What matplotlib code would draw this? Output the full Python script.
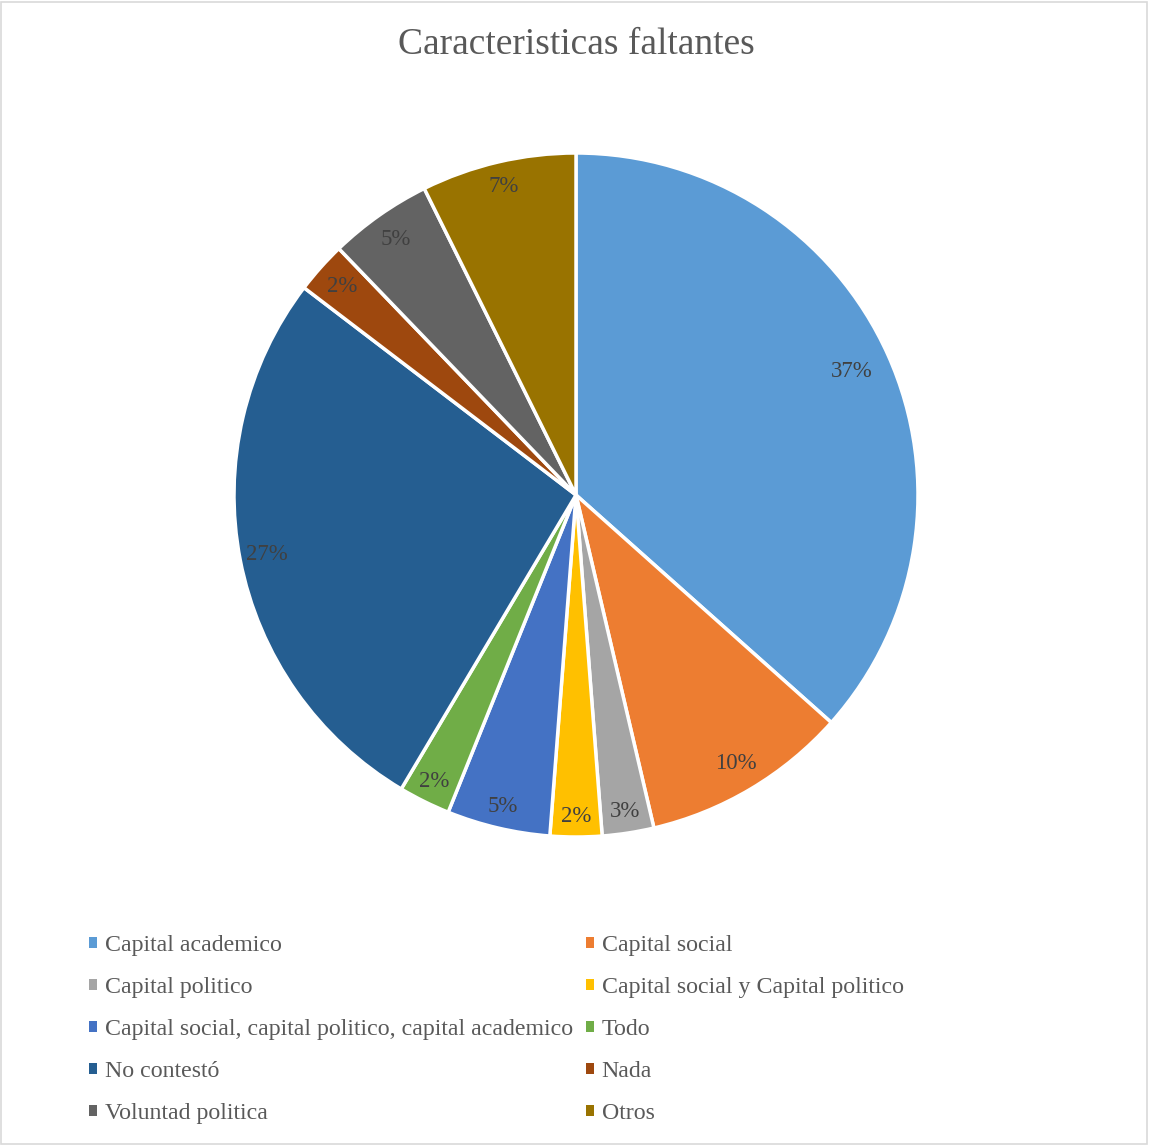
import matplotlib
matplotlib.use("Agg")
import matplotlib.pyplot as plt
from matplotlib.patches import Patch, Rectangle
import numpy as np

categories = ["Capital academico", "Capital social", "Capital politico",
              "Capital social y Capital politico",
              "Capital social, capital politico, capital academico",
              "Todo", "No contestó", "Nada", "Voluntad politica", "Otros"]
counts = [15, 4, 1, 1, 2, 1, 11, 1, 2, 3]
pct_labels = ["37%", "10%", "3%", "2%", "5%", "2%", "27%", "2%", "5%", "7%"]
colors = ["#5B9BD5", "#ED7D31", "#A5A5A5", "#FFC000", "#4472C4",
          "#70AD47", "#255E91", "#9E480E", "#636363", "#997300"]
# radial position of each percentage label (fraction of radius)
label_r = [0.885, 0.915, 0.935, 0.94, 0.935, 0.935, 0.92, 0.915, 0.915, 0.925]

W, H = 1149, 1146
fig = plt.figure(figsize=(W / 100, H / 100), dpi=100)
fig.patch.set_facecolor("white")
serif = ["Liberation Serif", "DejaVu Serif"]

# pie axes: center (576,495), radius 342
cx, cy, r = 576, 495, 342
ax = fig.add_axes([(cx - r) / W, (H - cy - r) / H, 2 * r / W, 2 * r / H])
wedges, _ = ax.pie(counts, colors=colors, startangle=90, counterclock=False,
                   radius=1.0, wedgeprops=dict(edgecolor="white", linewidth=2.5))
total = sum(counts)
cum = 0
for i, v in enumerate(counts):
    mid = (cum + v / 2) / total * 2 * np.pi
    cum += v
    d = label_r[i]
    ax.text(d * np.sin(mid), d * np.cos(mid), pct_labels[i], ha="center", va="center",
            fontsize=16.5, family=serif, color="#404040")
ax.set_xlim(-1, 1)
ax.set_ylim(-1, 1)
ax.set_aspect("equal")
ax.axis("off")

fig.text(576 / W, 1 - 45 / H, "Caracteristicas faltantes", ha="center", va="center",
         fontsize=27, family=serif, color="#595959")

# legend: two one-column legends to keep row order as in the reference
for col, x0 in enumerate([89, 586]):
    idx = list(range(col, len(categories), 2))
    handles = [Patch(facecolor=colors[i], edgecolor="none") for i in idx]
    labels = [categories[i] for i in idx]
    fig.legend(handles, labels, loc="upper left",
               bbox_to_anchor=(x0 / W, 1 - 935 / H), frameon=False,
               prop=dict(family=serif, size=17.2), labelcolor="#595959",
               handlelength=0.35, handleheight=0.35, handletextpad=0.3,
               labelspacing=0.88, borderpad=0, borderaxespad=0)

fig.add_artist(Rectangle((0.5 / W, 2.5 / H), (W - 3) / W, (H - 4) / H, transform=fig.transFigure,
                         fill=False, edgecolor="#D9D9D9", linewidth=1.2))

fig.savefig("out.png", dpi=100)
